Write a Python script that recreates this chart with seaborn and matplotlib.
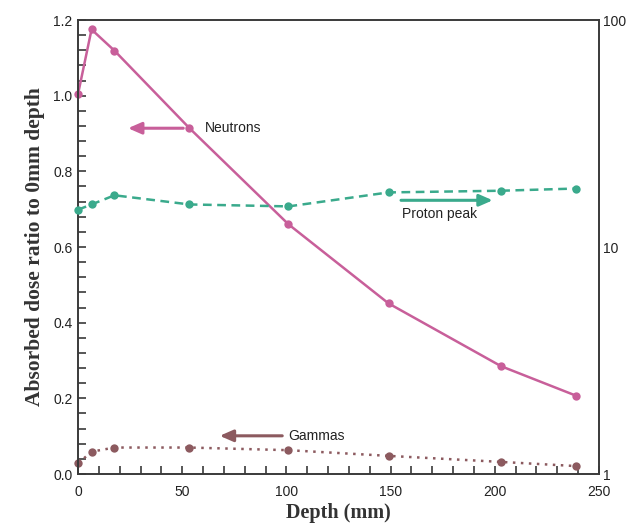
import matplotlib
matplotlib.use("Agg")
import matplotlib.pyplot as plt
import seaborn as sns
import pandas as pd
from matplotlib.ticker import MultipleLocator, FixedLocator, NullLocator, FixedFormatter

depth = [0, 6.5, 17.5, 53.5, 101, 149, 203, 239]
neutrons = [1.004, 1.175, 1.119, 0.914, 0.660, 0.451, 0.285, 0.207]
proton_peak = [14.6, 15.4, 16.9, 15.4, 15.1, 17.4, 17.7, 18.1]
gammas = [0.028, 0.059, 0.070, 0.070, 0.063, 0.048, 0.032, 0.021]

left_ticks = [0.0, 0.2, 0.4, 0.6, 0.8, 1.0, 1.2]
right_ticks = [1, 10, 100]
x_ticks = [0, 50, 100, 150, 200, 250]

c_n = "#c85f9a"
c_p = "#3aaa8c"
c_g = "#8c5a5f"
spine_c = "#3a3a3a"

sns.set_style("ticks")
plt.rcParams["font.family"] = ["Liberation Sans", "DejaVu Sans"]

fig = plt.figure(figsize=(6.26, 5.31), dpi=100)
ax = fig.add_axes([0.1246, 0.1073, 0.8323, 0.855])

df = pd.DataFrame({"depth": depth, "neutrons": neutrons, "gammas": gammas,
                   "proton": proton_peak})

sns.lineplot(data=df, x="depth", y="neutrons", ax=ax, color=c_n, lw=1.8,
             marker="o", markersize=6, markeredgewidth=0, clip_on=False)
sns.lineplot(data=df, x="depth", y="gammas", ax=ax, color=c_g, lw=1.8,
             linestyle=(0, (1, 2.2)), marker="o", markersize=6, markeredgewidth=0,
             clip_on=False)

ax2 = ax.twinx()
sns.lineplot(data=df, x="depth", y="proton", ax=ax2, color=c_p, lw=1.8,
             linestyle=(0, (3.5, 2.2)), marker="o", markersize=6, markeredgewidth=0,
             clip_on=False)
ax2.set_yscale("log")
ax2.set_ylim(1, 100)
ax2.yaxis.set_major_locator(FixedLocator(right_ticks))
ax2.yaxis.set_major_formatter(FixedFormatter([str(t) for t in right_ticks]))
ax2.yaxis.set_minor_locator(NullLocator())
ax2.tick_params(axis="y", length=0, pad=3, labelsize=10, colors="#222222")
ax2.set_ylabel("")
for s in ax2.spines.values():
    s.set_visible(False)

ax.set_xlim(0, 250)
ax.set_ylim(0, 1.2)
ax.xaxis.set_major_locator(FixedLocator(x_ticks))
ax.xaxis.set_minor_locator(MultipleLocator(10))
ax.yaxis.set_major_locator(FixedLocator(left_ticks))
ax.yaxis.set_minor_locator(MultipleLocator(0.04))
ax.set_yticklabels([f"{t:.1f}" for t in left_ticks])
ax.tick_params(which="both", direction="in", length=6, width=1.2, color=spine_c,
               labelsize=10, labelcolor="#222222")
ax.tick_params(axis="y", pad=4)
ax.tick_params(axis="x", pad=8)
for s in ax.spines.values():
    s.set_visible(True)
    s.set_color(spine_c)
    s.set_linewidth(1.4)

serif = ["Liberation Serif", "DejaVu Serif"]
ax.set_xlabel("Depth (mm)", family=serif, fontweight="bold", fontsize=14.5, labelpad=3,
              color="#333333")
ax.set_ylabel("Absorbed dose ratio to 0mm depth", family=serif, fontweight="bold",
              fontsize=15.5, labelpad=6, color="#333333")

arrow_kw = dict(arrowstyle="-|>,head_length=0.8,head_width=0.35", lw=2.2,
                shrinkA=0, shrinkB=0)
ax.annotate("", xy=(24, 0.914), xytext=(50.5, 0.914),
            arrowprops=dict(color=c_n, **arrow_kw))
ax.text(61, 0.914, "Neutrons", fontsize=10, va="center", ha="left", color="#222222")

ax.annotate("", xy=(199, 0.7235), xytext=(155, 0.7235),
            arrowprops=dict(color=c_p, **arrow_kw))
ax.text(155.5, 0.686, "Proton peak", fontsize=10, va="center", ha="left", color="#222222")

ax.annotate("", xy=(68, 0.101), xytext=(98, 0.101),
            arrowprops=dict(color=c_g, **arrow_kw))
ax.text(101, 0.101, "Gammas", fontsize=10, va="center", ha="left", color="#222222")

fig.savefig("out.png", dpi=100)
